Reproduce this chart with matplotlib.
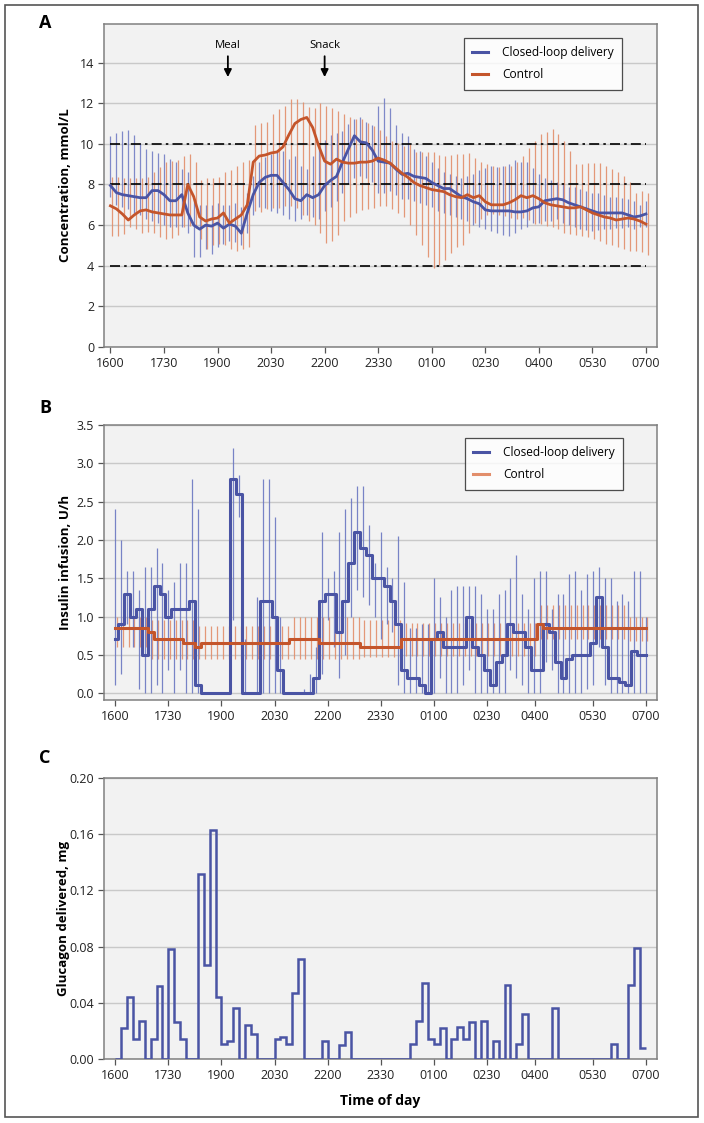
import numpy as np
import matplotlib
matplotlib.use("Agg")
import matplotlib.pyplot as plt
from matplotlib.patches import Rectangle
from matplotlib.lines import Line2D

plt.rcParams['font.family'] = ['Open Sans', 'DejaVu Sans']

# ---------------- data ----------------
tick_labels = ["1600", "1730", "1900", "2030", "2200", "2330", "0100", "0230", "0400", "0530", "0700"]
n_pts = 91  # samples every 10 min from 16:00 to 07:00
hours = [i / 6 for i in range(n_pts)]

# Panel A: glucose concentration (mmol/L)
cl_glucose = [7.95, 7.6, 7.5, 7.45, 7.4, 7.35, 7.35, 7.7, 7.7, 7.5, 7.2, 7.2, 7.5, 6.6, 6.0, 5.8,
              6.0, 5.95, 6.1, 5.85, 6.05, 5.95, 5.6, 6.6, 7.5, 8.1, 8.35, 8.45, 8.45, 8.1, 7.75,
              7.3, 7.2, 7.5, 7.35, 7.5, 7.95, 8.2, 8.4, 9.1, 9.75, 10.4, 10.1, 10.05, 9.7, 9.15,
              9.1, 9.05, 8.75, 8.5, 8.55, 8.4, 8.35, 8.3, 8.1, 7.95, 7.8, 7.8, 7.6, 7.4, 7.3,
              7.15, 7.05, 6.75, 6.7, 6.7, 6.7, 6.7, 6.65, 6.65, 6.7, 6.85, 6.9, 7.2, 7.25, 7.3,
              7.25, 7.1, 7.0, 6.9, 6.8, 6.7, 6.6, 6.6, 6.6, 6.6, 6.6, 6.5, 6.4, 6.45, 6.55]
cl_glucose_hi = [10.4, 10.55, 10.65, 10.7, 10.45, 10.05, 9.75, 9.65, 9.55, 9.5, 9.25, 9.1, 8.75,
                 8.6, 7.3, 7.0, 7.0, 7.0, 7.1, 7.0, 7.0, 7.1, 6.9, 7.6, 8.4, 9.1, 9.35, 9.5, 9.6,
                 9.65, 9.25, 9.4, 8.9, 8.75, 9.4, 9.9, 10.2, 10.45, 10.55, 10.65, 11.0, 11.2, 11.3,
                 11.1, 10.95, 11.85, 12.25, 11.75, 10.95, 10.55, 10.4, 9.75, 9.65, 9.4, 9.1, 8.8,
                 8.6, 8.5, 8.4, 8.3, 8.4, 8.5, 8.7, 8.8, 8.9, 8.85, 8.9, 9.0, 9.2, 9.1, 9.1, 8.8,
                 8.5, 8.3, 8.2, 8.1, 8.0, 7.9, 7.9, 7.8, 7.7, 7.6, 7.6, 7.5, 7.4, 7.4, 7.35, 7.3,
                 7.2, 7.0, 7.2]
cl_glucose_lo = [7.4, 7.0, 6.9, 6.8, 6.6, 6.5, 6.3, 6.2, 6.1, 6.0, 5.9, 5.9, 5.9, 5.6, 4.45, 4.45,
                 4.8, 4.6, 4.9, 5.05, 5.2, 5.15, 5.0, 5.6, 6.5, 6.9, 6.85, 6.7, 6.6, 6.5, 6.3, 6.2,
                 6.3, 6.5, 6.4, 6.3, 6.7, 6.9, 7.2, 7.6, 8.0, 8.3, 8.4, 8.3, 8.1, 7.6, 7.6, 7.7,
                 7.5, 7.3, 7.3, 7.2, 7.1, 7.0, 6.9, 6.7, 6.6, 6.5, 6.4, 6.3, 6.2, 6.0, 5.9, 5.8,
                 5.7, 5.6, 5.5, 5.45, 5.6, 5.8, 5.9, 6.1, 6.1, 6.2, 6.2, 6.3, 6.1, 6.0, 5.9, 5.8,
                 5.75, 5.7, 5.75, 5.8, 5.8, 5.85, 5.85, 5.9, 5.8, 5.9, 5.9]
ctl_glucose = [6.95, 6.8, 6.55, 6.25, 6.5, 6.7, 6.75, 6.65, 6.6, 6.55, 6.5, 6.5, 6.5, 8.0, 7.4,
               6.4, 6.2, 6.3, 6.35, 6.6, 6.1, 6.3, 6.5, 7.0, 9.1, 9.4, 9.45, 9.55, 9.6, 9.85,
               10.45, 11.0, 11.2, 11.3, 10.8, 9.9, 9.15, 9.0, 9.25, 9.1, 9.05, 9.05, 9.1, 9.1,
               9.15, 9.3, 9.2, 9.05, 8.8, 8.55, 8.35, 8.1, 7.95, 7.85, 7.75, 7.7, 7.65, 7.5, 7.4,
               7.35, 7.5, 7.35, 7.45, 7.15, 7.0, 7.0, 7.0, 7.1, 7.25, 7.45, 7.35, 7.45, 7.3, 7.1,
               7.0, 6.95, 6.9, 6.85, 6.85, 6.9, 6.75, 6.6, 6.5, 6.4, 6.35, 6.25, 6.3, 6.35, 6.3,
               6.2, 6.05]
ctl_glucose_hi = [8.35, 8.35, 8.3, 8.3, 8.3, 8.3, 8.35, 8.6, 8.85, 9.1, 9.15, 9.2, 9.4, 9.5, 9.1,
                  8.2, 8.3, 8.3, 8.35, 8.6, 8.7, 8.9, 9.1, 9.2, 10.95, 11.05, 11.1, 11.45, 11.7,
                  11.85, 12.2, 12.2, 12.05, 11.8, 11.75, 12.0, 11.85, 11.75, 11.6, 11.45, 11.3,
                  11.2, 11.2, 11.05, 10.9, 10.7, 10.4, 10.15, 10.05, 9.9, 10.0, 9.6, 9.6, 9.6,
                  9.6, 9.45, 9.4, 9.45, 9.5, 9.5, 9.55, 9.3, 9.1, 9.0, 8.9, 8.85, 8.9, 8.9, 9.1,
                  9.4, 9.8, 10.15, 10.5, 10.6, 10.75, 10.5, 10.15, 9.65, 9.0, 9.0, 9.05, 9.05,
                  9.05, 8.9, 8.75, 8.6, 8.4, 8.1, 7.6, 7.7, 7.6]
ctl_glucose_lo = [5.45, 5.45, 5.55, 5.9, 5.8, 5.6, 5.65, 5.6, 5.4, 5.3, 5.35, 5.5, 5.9, 5.95, 5.85,
                  5.3, 4.8, 5.0, 5.05, 5.0, 4.8, 4.75, 4.8, 4.9, 6.7, 6.65, 6.8, 6.85, 6.85, 6.95,
                  6.95, 6.85, 6.5, 6.2, 6.0, 5.6, 5.1, 5.2, 5.5, 6.2, 6.4, 6.6, 6.75, 6.8, 6.85,
                  6.95, 6.95, 6.8, 6.6, 6.4, 6.0, 5.5, 5.0, 4.45, 3.9, 4.05, 4.3, 4.65, 4.9, 5.0,
                  5.6, 6.1, 6.3, 6.5, 6.55, 6.5, 6.45, 6.35, 6.3, 6.35, 6.25, 6.05, 6.05, 5.95, 5.9,
                  5.8, 5.6, 5.55, 5.5, 5.45, 5.4, 5.3, 5.2, 5.05, 5.0, 4.9, 4.8, 4.75, 4.75, 4.7,
                  4.55]
ref_levels = [4, 8, 10]
meal_time, snack_time = 3.29, 6.0

# Panel B: insulin infusion (U/h)
cl_insulin = [0.7, 0.9, 1.3, 1.0, 1.1, 0.5, 1.1, 1.4, 1.3, 1.0, 1.1, 1.1, 1.1, 1.2, 0.1, 0.0, 0.0,
              0.0, 0.0, 0.0, 2.8, 2.6, 0.0, 0.0, 0.0, 1.2, 1.2, 1.0, 0.3, 0.0, 0.0, 0.0, 0.0, 0.0,
              0.2, 1.2, 1.3, 1.3, 0.8, 1.2, 1.7, 2.1, 1.9, 1.8, 1.5, 1.5, 1.4, 1.2, 0.9, 0.3, 0.2,
              0.2, 0.1, 0.0, 0.7, 0.8, 0.6, 0.6, 0.6, 0.6, 1.0, 0.6, 0.5, 0.3, 0.1, 0.4, 0.5, 0.9,
              0.8, 0.8, 0.6, 0.3, 0.3, 0.9, 0.8, 0.4, 0.2, 0.45, 0.5, 0.5, 0.5, 0.65, 1.25, 0.6,
              0.2, 0.2, 0.15, 0.1, 0.55, 0.5, 0.5]
cl_insulin_hi = [2.4, 2.0, 1.6, 1.6, 1.35, 1.65, 1.65, 1.9, 1.7, 1.35, 1.45, 1.7, 1.7, 2.8, 2.4,
                 0.0, 0.0, 0.0, 0.0, 0.0, 3.2, 2.85, 0.7, 0.0, 1.25, 2.8, 2.8, 2.3, 1.0, 0.0, 0.0,
                 0.0, 0.05, 0.25, 0.6, 2.1, 1.5, 1.6, 2.1, 2.4, 2.55, 2.7, 2.7, 2.2, 1.7, 2.1,
                 1.65, 1.5, 2.05, 1.45, 0.85, 0.85, 0.9, 0.9, 1.5, 1.25, 1.0, 1.35, 1.4, 1.4, 1.4,
                 1.4, 1.3, 1.1, 1.1, 1.3, 1.35, 1.5, 1.8, 1.3, 1.1, 1.5, 1.6, 1.6, 1.1, 1.3, 1.3,
                 1.55, 1.6, 1.35, 1.55, 1.6, 1.65, 1.5, 1.5, 1.2, 1.3, 1.2, 1.6, 1.6, 1.0]
cl_insulin_lo = [0.1, 0.25, 0.9, 0.6, 0.05, 0.0, 0.0, 0.1, 0.0, 0.3, 0.0, 0.3, 0.0, 0.0, 0.0, 0.0,
                 0.0, 0.0, 0.0, 0.0, 0.95, 2.3, 0.0, 0.0, 0.0, 0.0, 0.0, 0.0, 0.0, 0.0, 0.0, 0.0,
                 0.0, 0.0, 0.0, 0.25, 0.95, 0.6, 0.2, 0.5, 1.0, 1.35, 1.25, 1.15, 1.0, 0.7, 0.9,
                 0.8, 0.1, 0.0, 0.0, 0.0, 0.0, 0.0, 0.0, 0.2, 0.0, 0.0, 0.0, 0.1, 0.3, 0.0, 0.0,
                 0.0, 0.0, 0.0, 0.0, 0.3, 0.2, 0.1, 0.0, 0.0, 0.0, 0.4, 0.3, 0.0, 0.0, 0.0, 0.0,
                 0.0, 0.05, 0.1, 0.6, 0.1, 0.0, 0.0, 0.0, 0.0, 0.0, 0.0, 0.0]
ctl_insulin = ([0.85] * 6 + [0.8] + [0.7] * 5 + [0.65] * 2 + [0.6] + [0.65] * 15 + [0.7] * 5
               + [0.65] * 7 + [0.6] * 7 + [0.7] * 23 + [0.9] + [0.85] * 18)
ctl_insulin_hi = [1.0] * 6 + [0.95] * 8 + [0.87] * 16 + [1.0] * 12 + [0.95] * 7 + [0.92] * 23 + [1.15] * 15 + [1.0] * 4
ctl_insulin_lo = [0.6] * 6 + [0.45] * 8 + [0.45] * 16 + [0.45] * 12 + [0.47] * 7 + [0.48] * 23 + [0.7] * 15 + [0.68] * 4

# Panel C: glucagon delivered (mg), one value per 10-min interval
glucagon = [0, 0.022, 0.044, 0.014, 0.027, 0, 0.014, 0.052, 0, 0.078, 0.026, 0.014, 0, 0,
            0.132, 0.067, 0.163, 0.044, 0.011, 0.013, 0.036, 0, 0.024, 0.018, 0, 0, 0, 0.014,
            0.016, 0.011, 0.047, 0.071, 0, 0, 0, 0.013, 0, 0, 0.010, 0.019, 0, 0, 0, 0, 0, 0,
            0, 0, 0, 0, 0.011, 0.027, 0.054, 0.014, 0.011, 0.022, 0, 0.014, 0.023, 0.014, 0.026,
            0, 0.027, 0, 0.013, 0, 0.053, 0, 0.011, 0.032, 0, 0, 0, 0, 0.036, 0, 0, 0, 0, 0, 0,
            0, 0, 0, 0.011, 0, 0, 0.053, 0.079, 0.008]

# ---------------- style ----------------
BLUE = '#4a54a4'
BLUE_BAR = '#6b77c2'
ORANGE = '#c4552b'
ORANGE_BAR = '#e28e6b'
BG = '#f2f2f2'
GRID = '#c9c9c9'
SPINE = '#808080'

W, H = 704, 1123
fig = plt.figure(figsize=(W / 100, H / 100), dpi=100)


def ax_px(left, top, right, bottom):
    return fig.add_axes([left / W, 1 - bottom / H, (right - left) / W, (bottom - top) / H])


def style(ax, yticks, fmt, xlim, ylim, xticks):
    ax.set_facecolor(BG)
    ax.set_xlim(*xlim)
    ax.set_ylim(*ylim)
    ax.set_yticks(yticks)
    ax.set_yticklabels([fmt.format(v) for v in yticks])
    ax.set_xticks(xticks)
    ax.set_xticklabels(tick_labels)
    for y in yticks:
        ax.axhline(y, color=GRID, lw=1.0, zorder=0)
    for s in ax.spines.values():
        s.set_color(SPINE)
        s.set_linewidth(1.1)
    ax.tick_params(axis='both', direction='out', length=4, width=0.9, color='#555555',
                   labelsize=9, labelcolor='#222222', pad=3)


xt = [i * 1.5 for i in range(11)]
xt_bc = list(xt)
xt_bc[8] = 11.85

# ---------- Panel A ----------
axA = ax_px(104, 24, 657, 347)
style(axA, [0, 2, 4, 6, 8, 10, 12, 14], '{:.0f}', (-0.18, 15.31), (0, 15.9), xt)
h = np.array(hours)
axA.vlines(h, cl_glucose_lo, cl_glucose_hi, color=BLUE_BAR, lw=0.9, alpha=0.85, zorder=2)
axA.vlines(h + 0.05, ctl_glucose_lo, ctl_glucose_hi, color=ORANGE_BAR, lw=0.9, alpha=0.9, zorder=2)
for lv in ref_levels:
    axA.plot([0, 15], [lv, lv], color='black', lw=1.2, ls=(0, (6, 2.5, 1.5, 2.5)), zorder=3)
axA.plot(h, cl_glucose, color=BLUE, lw=2.0, zorder=4)
axA.plot(h, ctl_glucose, color=ORANGE, lw=2.0, zorder=5)
axA.set_ylabel('Concentration, mmol/L', fontsize=9.5, fontweight='bold')
axA.yaxis.set_label_coords(-0.058, 0.5)
for t, lab in [(meal_time, 'Meal'), (snack_time, 'Snack')]:
    axA.annotate('', xy=(t, 13.15), xytext=(t, 14.45),
                 arrowprops=dict(arrowstyle='-|>', color='black', lw=1.3, mutation_scale=11))
    axA.text(t, 14.85, lab, ha='center', va='center', fontsize=8.2)

handles = [Line2D([], [], color=BLUE, lw=2.2), Line2D([], [], color=ORANGE, lw=2.2)]
legA = axA.legend(handles, ['Closed-loop delivery', 'Control'], loc='upper left',
                  bbox_to_anchor=(0.651, 0.957), fontsize=8.6, frameon=True, fancybox=False,
                  edgecolor='#222222', handlelength=1.3, handletextpad=1.2, borderpad=0.7,
                  labelspacing=0.75, borderaxespad=0)
legA.get_frame().set_linewidth(0.9)

# ---------- Panel B ----------
axB = ax_px(104, 425, 657, 700)
style(axB, [0, 0.5, 1.0, 1.5, 2.0, 2.5, 3.0, 3.5], '{:.1f}', (-0.32, 15.31), (-0.09, 3.5), xt_bc)
axB.vlines(h + 0.04, ctl_insulin_lo, ctl_insulin_hi, color=ORANGE_BAR, lw=0.9, alpha=0.9, zorder=2)
axB.vlines(h, cl_insulin_lo, cl_insulin_hi, color=BLUE_BAR, lw=0.9, alpha=0.9, zorder=2)
axB.step(h, cl_insulin, where='mid', color=BLUE, lw=2.2, zorder=4)
axB.step(h, ctl_insulin, where='mid', color=ORANGE, lw=2.2, zorder=5)
axB.set_ylabel('Insulin infusion, U/h', fontsize=9.5, fontweight='bold')
axB.yaxis.set_label_coords(-0.058, 0.5)
handlesB = [Line2D([], [], color=BLUE, lw=2.2), Line2D([], [], color=ORANGE_BAR, lw=2.2)]
legB = axB.legend(handlesB, ['Closed-loop delivery', 'Control'], loc='upper left',
                  bbox_to_anchor=(0.653, 0.953), fontsize=8.6, frameon=True, fancybox=False,
                  edgecolor='#222222', handlelength=1.3, handletextpad=1.2, borderpad=0.7,
                  labelspacing=0.75, borderaxespad=0)
legB.get_frame().set_linewidth(0.9)

# ---------- Panel C ----------
axC = ax_px(104, 778, 657, 1059)
style(axC, [0, 0.04, 0.08, 0.12, 0.16, 0.20], '{:.2f}', (-0.32, 15.31), (0, 0.20), xt_bc)
edges = [i / 6 for i in range(len(glucagon) + 1)]
axC.stairs(glucagon, edges, baseline=None, color=BLUE, lw=1.8, zorder=4)
axC.set_ylabel('Glucagon delivered, mg', fontsize=9.5, fontweight='bold')
axC.yaxis.set_label_coords(-0.062, 0.5)
axC.set_xlabel('Time of day', fontsize=10, fontweight='bold', labelpad=9)

# panel letters and outer frame
for lab, yy in [('A', 23), ('B', 408), ('C', 758)]:
    fig.text(45 / W, 1 - yy / H, lab, fontsize=13, fontweight='bold', ha='center', va='center')
fig.add_artist(Rectangle((5 / W, 1 - 1117 / H), 693 / W, 1112 / H, transform=fig.transFigure,
                         fill=False, edgecolor='#555555', lw=1.2))

fig.savefig('out.png', dpi=100, facecolor='white')
